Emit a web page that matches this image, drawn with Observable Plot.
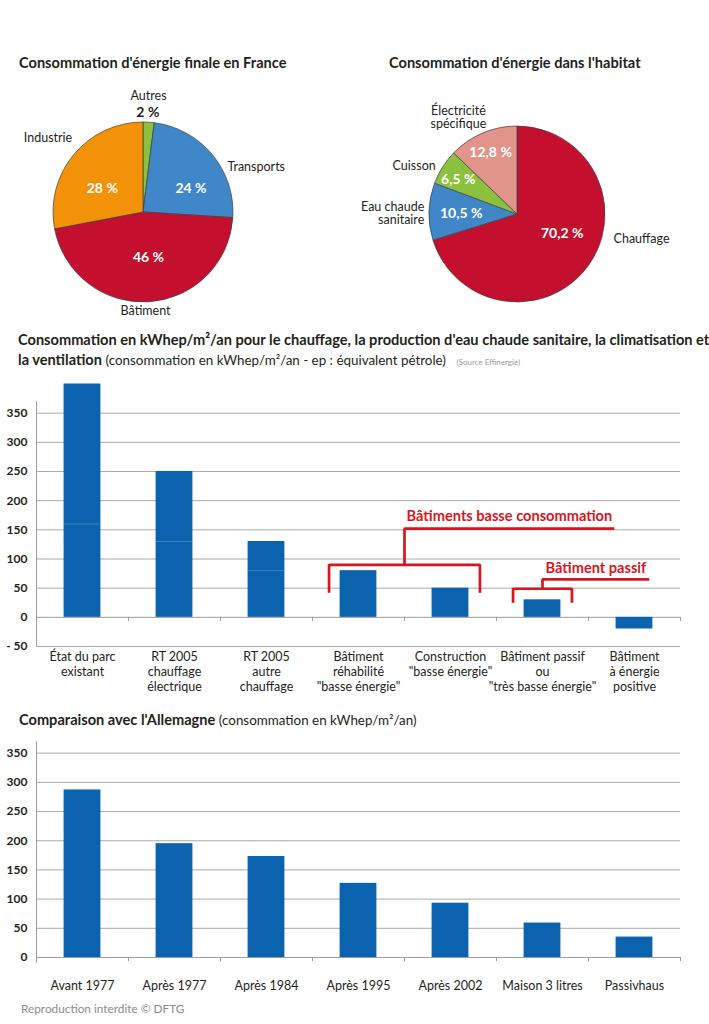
<!DOCTYPE html>
<html lang="fr">
<head>
<meta charset="utf-8">
<script src="https://cdn.jsdelivr.net/npm/d3@7"></script>
<script src="https://cdn.jsdelivr.net/npm/@observablehq/plot@0.6"></script>
<style>
  body { margin: 0; background: #fff; }
  #page { position: relative; width: 709px; height: 1024px; overflow: hidden; font-family: Lato, "Open Sans", sans-serif; color: #231f20; }
  .abs { position: absolute; white-space: nowrap; }
  .t { font-weight: 700; font-size: 14.6px; line-height: 18px; }
  .reg { font-weight: 400; font-size: 13.4px; }
  .src { font-weight: 400; font-size: 8px; color: #9a9a9a; }
  .foot { font-size: 11.8px; color: #8c8c8c; line-height: 16px; }
  svg { display: block; }
</style>
</head>
<body>
<div id="page"></div>
<script>
// ---------------- DATA ----------------
const franceCategories = ["Autres", "Transports", "Bâtiment", "Industrie"];
const franceNames = ["Autres", "Transports", "Bâtiment", "Industrie"];
const francePercents = [2, 24, 46, 28];

const habitatCategories = ["Chauffage", "Eau chaude sanitaire", "Cuisson", "Électricité spécifique"];
const habitatNames = ["Chauffage", "Eau chaude\nsanitaire", "Cuisson", "Électricité\nspécifique"];
const habitatPercents = [70.2, 10.5, 6.5, 12.8];

const heatingCategories = ["État du parc existant", "RT 2005 chauffage électrique", "RT 2005 autre chauffage",
  "Bâtiment réhabilité \"basse énergie\"", "Construction \"basse énergie\"",
  "Bâtiment passif ou \"très basse énergie\"", "Bâtiment à énergie positive"];
const heatingLabels = ["État du parc\nexistant", "RT 2005\nchauffage\nélectrique", "RT 2005\nautre\nchauffage",
  "Bâtiment\nréhabilité\n\"basse énergie\"", "Construction\n\"basse énergie\"",
  "Bâtiment passif\nou\n\"très basse énergie\"", "Bâtiment\nà énergie\npositive"];
const heatingValues = [400, 250, 130, 80, 50, 30, -20];
const heatingSplits = [160, 130, 80, null, null, null, null];
const heatingTicks = [-50, 0, 50, 100, 150, 200, 250, 300, 350];

const germanyCategories = ["Avant 1977", "Après 1977", "Après 1984", "Après 1995", "Après 2002", "Maison 3 litres", "Passivhaus"];
const germanyValues = [287, 195, 173, 127, 93, 59, 35];
const germanyTicks = [0, 50, 100, 150, 200, 250, 300, 350];

// group brackets (in category-index / value units)
const groupBrackets = [
  {label: "Bâtiments basse consommation", first: 3, last: 4, level: 90, foot: 42, stemTop: 152, reach: 5.78, labelX: 4.64, labelY: 173},
  {label: "Bâtiment passif", first: 5, last: 5, level: 49, foot: 25, stemTop: 65, reach: 6.16, labelX: 5.58, labelY: 84}
];

// ---------------- STYLE / LAYOUT ----------------
const FONT = "Lato, 'Open Sans', sans-serif";
const INK = "#231f20";
const GRID = "#a9abae";
const BAR = "#0b62ae";
const BAR_SPLIT = "#4d8bc8";
const RED_LINE = "#d7161f";
const franceColors = {"Autres": "#8cc13f", "Transports": "#3f87c8", "Bâtiment": "#c4102e", "Industrie": "#f39208"};
const habitatColors = {"Chauffage": "#c4102e", "Eau chaude sanitaire": "#3f87c8", "Cuisson": "#8cc13f", "Électricité spécifique": "#e0948a"};
// label placement: [angle in degrees clockwise from top, radius in pie radii]
const franceLayout = {
  "Autres":     {name: [2.5, 1.295], value: [2.5, 1.11], outside: true},
  "Transports": {name: [68.1, 1.35], value: [63.3, 0.59]},
  "Bâtiment":   {name: [178.8, 1.09], value: [173.6, 0.5]},
  "Industrie":  {name: [308.2, 1.35], value: [300.3, 0.53]}
};
const habitatLayout = {
  "Chauffage":              {name: [104, 1.125], anchor: "start", value: [112.7, 0.55]},
  "Eau chaude sanitaire":   {name: [271, 1.06], anchor: "end", value: [271, 0.64]},
  "Cuisson":                {name: [295.4, 1.30], value: [300.3, 0.78]},
  "Électricité spécifique": {name: [328.8, 1.295], value: [336.6, 0.77]}
};

const page = document.getElementById("page");
function addDiv(html, cls, left, top) {
  const d = document.createElement("div");
  d.className = "abs " + cls;
  d.style.left = left + "px";
  d.style.top = top + "px";
  d.innerHTML = html;
  page.appendChild(d);
  return d;
}
function place(node, left, top) {
  node.style.position = "absolute";
  node.style.left = left + "px";
  node.style.top = top + "px";
  page.appendChild(node);
}
function polar(deg, rho) {
  const a = deg * Math.PI / 180;
  return {x: rho * Math.sin(a), y: rho * Math.cos(a)};
}
const pct = v => String(v).replace(".", ",") + " %";

// ---------------- PIES ----------------
function pieChart({categories, names, values, colors, layout, cx, cy, r, width, height}) {
  const arcs = d3.pie().sort(null).value(d => d)(values);
  const slices = categories.map((c, i) => ({category: c, startAngle: arcs[i].startAngle, endAngle: arcs[i].endAngle}));
  const sliceMark = (index, scales) => {
    const ox = scales.x(0), oy = scales.y(0), rad = scales.x(1) - ox;
    const arc = d3.arc().innerRadius(0).outerRadius(rad);
    const g = d3.create("svg:g").attr("transform", `translate(${ox},${oy})`);
    g.selectAll("path").data(slices).join("path")
      .attr("d", arc)
      .attr("fill", d => colors[d.category])
      .attr("stroke", "#3d3d3d")
      .attr("stroke-width", 0.7);
    return g.node();
  };
  const marks = [sliceMark];
  categories.forEach((c, i) => {
    const L = layout[c];
    const pn = polar(...L.name);
    marks.push(Plot.text([{x: pn.x, y: pn.y, t: names[i]}], {
      x: "x", y: "y", text: "t", fill: INK, fontSize: 12.5, fontFamily: FONT,
      textAnchor: L.anchor || "middle", lineHeight: 1.05
    }));
    const pv = polar(...L.value);
    marks.push(Plot.text([{x: pv.x, y: pv.y, t: pct(values[i])}], {
      x: "x", y: "y", text: "t", fill: L.outside ? INK : "#ffffff",
      fontSize: 14, fontWeight: 700, fontFamily: FONT
    }));
  });
  return Plot.plot({
    width, height, margin: 0,
    x: {domain: [-1, 1], range: [cx - r, cx + r], axis: null},
    y: {domain: [-1, 1], range: [cy + r, cy - r], axis: null},
    style: {fontFamily: FONT, background: "transparent", overflow: "visible"},
    marks
  });
}

addDiv("Consommation d'énergie finale en France", "t", 19, 54);
addDiv("Consommation d'énergie dans l'habitat", "t", 389, 54);

place(pieChart({categories: franceCategories, names: franceNames, values: francePercents, colors: franceColors,
  layout: franceLayout, cx: 143, cy: 132, r: 90, width: 354, height: 245}), 0, 80);
place(pieChart({categories: habitatCategories, names: habitatNames, values: habitatPercents, colors: habitatColors,
  layout: habitatLayout, cx: 163, cy: 134, r: 88, width: 355, height: 245}), 354, 80);

// ---------------- BAR CHARTS ----------------
const halfBar = 0.2;
function barChart({values, labels, splits, ticks, yDomain, height, marginTop, marginBottom, labelDy, labelAnchor, axisBottom, extra}) {
  const n = values.length;
  const idx = d3.range(n);
  const boundaries = d3.range(n).map(i => i + 0.5);
  const bars = idx.map(i => ({i, v: values[i]}));
  const marks = [
    Plot.ruleY(ticks.filter(t => t !== 0), {y: d => d, stroke: GRID, strokeWidth: 1}),
    Plot.ruleY([0], {y: d => d, stroke: "#9a9c9f", strokeWidth: 1}),
    Plot.ruleX(boundaries, {x: d => d, y1: 0, y2: -7, stroke: "#9a9c9f", strokeWidth: 1}),
    Plot.ruleX([-0.5], {x: d => d, y1: axisBottom, y2: yDomain[1], stroke: "#9a9c9f", strokeWidth: 1}),
    Plot.rect(bars, {x1: d => d.i - halfBar, x2: d => d.i + halfBar, y1: 0, y2: "v", fill: BAR})
  ];
  if (splits) {
    const sp = idx.filter(i => splits[i] != null).map(i => ({i, s: splits[i]}));
    marks.push(Plot.ruleY(sp, {y: "s", x1: d => d.i - halfBar, x2: d => d.i + halfBar, stroke: BAR_SPLIT, strokeWidth: 0.8}));
  }
  marks.push(
    Plot.text(ticks, {y: d => d, frameAnchor: "left", textAnchor: "end", dx: -9, text: d => d < 0 ? "- " + Math.abs(d) : String(d),
      fontWeight: 700, fontSize: 12, fill: INK, fontFamily: FONT}),
    Plot.text(labels, {x: (d, i) => i, text: d => d, frameAnchor: "bottom", lineAnchor: labelAnchor, dy: labelDy,
      fontSize: 12.5, lineHeight: 1.2, fill: INK, fontFamily: FONT})
  );
  if (extra) marks.push(...extra);
  return Plot.plot({
    width: 709, height, marginLeft: 36, marginRight: 29, marginTop, marginBottom,
    x: {domain: [-0.5, n - 0.5], axis: null},
    y: {domain: yDomain, axis: null},
    style: {fontFamily: FONT, background: "transparent", overflow: "visible"},
    marks
  });
}

const bracketSpread = 0.32;
const bracketMarks = [];
groupBrackets.forEach(b => {
  const L = b.first - bracketSpread, R = b.last + bracketSpread, M = (L + R) / 2;
  const base = [[L, b.foot], [L, b.level], [R, b.level], [R, b.foot]];
  const stem = [[M, b.level], [M, b.stemTop], [b.reach, b.stemTop]];
  for (const path of [base, stem]) {
    bracketMarks.push(Plot.line(path, {x: d => d[0], y: d => d[1], stroke: RED_LINE, strokeWidth: 2.7,
      strokeLinejoin: "miter", strokeLinecap: "butt", curve: "linear"}));
  }
  bracketMarks.push(Plot.text([b], {x: "labelX", y: "labelY", text: "label", fill: RED_LINE, fontWeight: 700,
    fontSize: 14.6, fontFamily: FONT}));
});

addDiv("Consommation en kWhep/m²/an pour le chauffage, la production d'eau chaude sanitaire, la climatisation et<br>la ventilation <span class=\"reg\">(consommation en kWhep/m²/an - ep : équivalent pétrole)</span>&nbsp;&nbsp; <span class=\"src\">(Source Effinergie)</span>",
  "t", 18, 330).style.lineHeight = "20px";

place(barChart({values: heatingValues, labels: heatingLabels, splits: heatingSplits, ticks: heatingTicks,
  yDomain: [-50, 370], height: 330, marginTop: 31, marginBottom: 54, labelDy: 4, labelAnchor: "top",
  axisBottom: -50, extra: bracketMarks}), 0, 370);

addDiv("Comparaison avec l'Allemagne <span class=\"reg\">(consommation en kWhep/m²/an)</span>", "t", 19, 711);

place(barChart({values: germanyValues, labels: germanyCategories, splits: null, ticks: germanyTicks,
  yDomain: [0, 370], height: 265, marginTop: 6, marginBottom: 43, labelDy: 28, labelAnchor: "middle",
  axisBottom: -10}), 0, 735);

addDiv("Reproduction interdite © DFTG", "foot", 21, 1001);
</script>
</body>
</html>
